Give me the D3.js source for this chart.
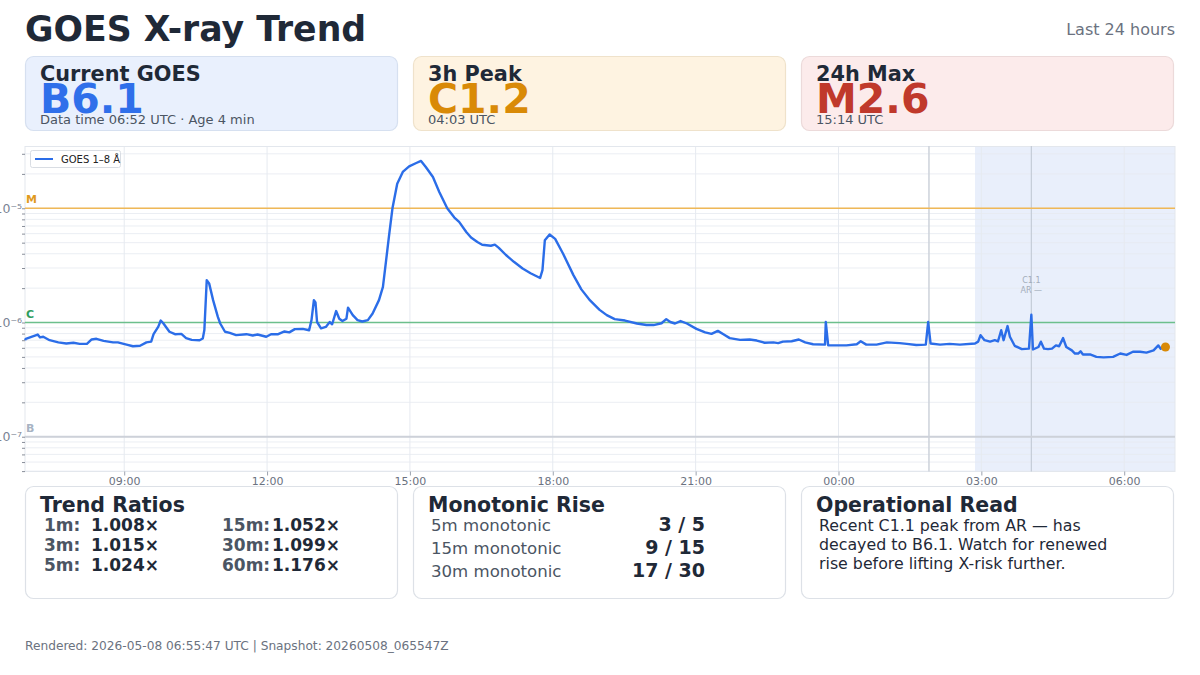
<!DOCTYPE html>
<html><head><meta charset="utf-8">
<script src="https://cdn.jsdelivr.net/npm/d3@7"></script>
<style>
html,body{margin:0;padding:0;background:#fff;}
svg{display:block;font-family:"DejaVu Sans",sans-serif;}
</style></head><body>
<svg id="chart" width="1200" height="675"></svg>
<script>
// ---------- DATA ----------
const seriesTimes = [
"2026-05-07 06:55","2026-05-07 06:56","2026-05-07 07:11","2026-05-07 07:14","2026-05-07 07:18","2026-05-07 07:26","2026-05-07 07:37","2026-05-07 07:47","2026-05-07 07:56","2026-05-07 08:04",
"2026-05-07 08:13","2026-05-07 08:19","2026-05-07 08:25","2026-05-07 08:34","2026-05-07 08:46","2026-05-07 08:52","2026-05-07 09:03","2026-05-07 09:11","2026-05-07 09:20","2026-05-07 09:28",
"2026-05-07 09:34","2026-05-07 09:37","2026-05-07 09:43","2026-05-07 09:46","2026-05-07 09:49","2026-05-07 09:57","2026-05-07 10:04","2026-05-07 10:12","2026-05-07 10:18","2026-05-07 10:25",
"2026-05-07 10:35","2026-05-07 10:39","2026-05-07 10:41","2026-05-07 10:44","2026-05-07 10:47","2026-05-07 10:52","2026-05-07 10:58","2026-05-07 11:01","2026-05-07 11:07","2026-05-07 11:13",
"2026-05-07 11:21","2026-05-07 11:34","2026-05-07 11:42","2026-05-07 11:48","2026-05-07 11:59","2026-05-07 12:05","2026-05-07 12:14","2026-05-07 12:22","2026-05-07 12:28","2026-05-07 12:35",
"2026-05-07 12:45","2026-05-07 12:53","2026-05-07 12:56","2026-05-07 12:59","2026-05-07 13:01","2026-05-07 13:03","2026-05-07 13:08","2026-05-07 13:14","2026-05-07 13:19","2026-05-07 13:22",
"2026-05-07 13:27","2026-05-07 13:31","2026-05-07 13:35","2026-05-07 13:40","2026-05-07 13:42","2026-05-07 13:48","2026-05-07 13:54","2026-05-07 14:00","2026-05-07 14:07","2026-05-07 14:13",
"2026-05-07 14:21","2026-05-07 14:26","2026-05-07 14:30","2026-05-07 14:34","2026-05-07 14:38","2026-05-07 14:44","2026-05-07 14:51","2026-05-07 14:59","2026-05-07 15:08","2026-05-07 15:14",
"2026-05-07 15:20","2026-05-07 15:29","2026-05-07 15:37","2026-05-07 15:47","2026-05-07 15:56","2026-05-07 16:02","2026-05-07 16:11","2026-05-07 16:17","2026-05-07 16:25","2026-05-07 16:31",
"2026-05-07 16:42","2026-05-07 16:47","2026-05-07 16:52","2026-05-07 17:01","2026-05-07 17:11","2026-05-07 17:22","2026-05-07 17:32","2026-05-07 17:44","2026-05-07 17:47","2026-05-07 17:50",
"2026-05-07 17:56","2026-05-07 18:03","2026-05-07 18:13","2026-05-07 18:26","2026-05-07 18:36","2026-05-07 18:47","2026-05-07 18:59","2026-05-07 19:08","2026-05-07 19:18","2026-05-07 19:31",
"2026-05-07 19:46","2026-05-07 19:58","2026-05-07 20:07","2026-05-07 20:17","2026-05-07 20:23","2026-05-07 20:28","2026-05-07 20:34","2026-05-07 20:41","2026-05-07 20:49","2026-05-07 21:01",
"2026-05-07 21:12","2026-05-07 21:20","2026-05-07 21:28","2026-05-07 21:35","2026-05-07 21:43","2026-05-07 21:56","2026-05-07 22:08","2026-05-07 22:17","2026-05-07 22:27","2026-05-07 22:38",
"2026-05-07 22:44","2026-05-07 22:50","2026-05-07 23:01","2026-05-07 23:10","2026-05-07 23:18","2026-05-07 23:28","2026-05-07 23:43","2026-05-07 23:44","2026-05-07 23:47","2026-05-07 23:58",
"2026-05-08 00:10","2026-05-08 00:23","2026-05-08 00:28","2026-05-08 00:35","2026-05-08 00:48","2026-05-08 01:01","2026-05-08 01:17","2026-05-08 01:26","2026-05-08 01:38","2026-05-08 01:50",
"2026-05-08 01:53","2026-05-08 01:56","2026-05-08 02:08","2026-05-08 02:20","2026-05-08 02:33","2026-05-08 02:52","2026-05-08 02:56","2026-05-08 02:59","2026-05-08 03:04","2026-05-08 03:11",
"2026-05-08 03:17","2026-05-08 03:21","2026-05-08 03:25","2026-05-08 03:28","2026-05-08 03:33","2026-05-08 03:36","2026-05-08 03:42","2026-05-08 03:51","2026-05-08 04:00","2026-05-08 04:03",
"2026-05-08 04:05","2026-05-08 04:12","2026-05-08 04:15","2026-05-08 04:19","2026-05-08 04:24","2026-05-08 04:29","2026-05-08 04:34","2026-05-08 04:38","2026-05-08 04:43","2026-05-08 04:47",
"2026-05-08 04:54","2026-05-08 04:58","2026-05-08 05:02","2026-05-08 05:05","2026-05-08 05:08","2026-05-08 05:17","2026-05-08 05:25","2026-05-08 05:34","2026-05-08 05:46","2026-05-08 05:55",
"2026-05-08 06:03","2026-05-08 06:11","2026-05-08 06:20","2026-05-08 06:28","2026-05-08 06:37","2026-05-08 06:43","2026-05-08 06:46","2026-05-08 06:52"
];
const fluxValues = [
7.0e-7,7.2e-7,7.85e-7,7.4e-7,7.5e-7,7.0e-7,6.7e-7,6.55e-7,6.65e-7,6.5e-7,
6.5e-7,7.1e-7,7.2e-7,6.9e-7,6.7e-7,6.7e-7,6.4e-7,6.2e-7,6.25e-7,6.7e-7,
6.8e-7,7.9e-7,9.2e-7,1.04e-6,9.9e-7,8.3e-7,7.9e-7,7.95e-7,7.3e-7,7.05e-7,
7.0e-7,7.24e-7,8.6e-7,2.35e-6,2.2e-6,1.57e-6,1.12e-6,9.8e-7,8.3e-7,8.1e-7,
7.75e-7,7.9e-7,7.7e-7,7.85e-7,7.5e-7,7.9e-7,7.9e-7,8.35e-7,8.2e-7,8.75e-7,
8.8e-7,8.55e-7,1.05e-6,1.57e-6,1.5e-6,1.01e-6,8.9e-7,9.15e-7,1.01e-6,9.65e-7,
1.26e-6,1.08e-6,1.03e-6,1.08e-6,1.35e-6,1.16e-6,1.05e-6,1.02e-6,1.05e-6,1.2e-6,
1.57e-6,2.05e-6,3.5e-6,6.0e-6,1.0e-5,1.64e-5,2.08e-5,2.33e-5,2.49e-5,2.6e-5,
2.3e-5,1.88e-5,1.39e-5,1.0e-5,8.3e-6,7.6e-6,6.2e-6,5.55e-6,5.07e-6,4.8e-6,
4.7e-6,4.8e-6,4.5e-6,3.9e-6,3.4e-6,2.97e-6,2.7e-6,2.45e-6,2.87e-6,5.25e-6,
5.9e-6,5.4e-6,4.0e-6,2.6e-6,1.95e-6,1.56e-6,1.29e-6,1.16e-6,1.07e-6,1.04e-6,
9.8e-7,9.5e-7,9.5e-7,9.85e-7,1.07e-6,1.01e-6,9.8e-7,1.03e-6,9.8e-7,8.8e-7,
8.2e-7,7.95e-7,8.45e-7,7.9e-7,7.3e-7,7.05e-7,7.1e-7,6.95e-7,6.65e-7,6.7e-7,
6.6e-7,6.8e-7,6.85e-7,7.1e-7,6.7e-7,6.45e-7,6.4e-7,1.01e-6,6.3e-7,6.3e-7,
6.3e-7,6.45e-7,6.85e-7,6.4e-7,6.4e-7,6.7e-7,6.6e-7,6.5e-7,6.35e-7,6.4e-7,
1.01e-6,6.55e-7,6.4e-7,6.5e-7,6.4e-7,6.55e-7,6.8e-7,7.75e-7,7.0e-7,6.8e-7,
7.0e-7,6.85e-7,8.55e-7,7.0e-7,9.3e-7,7.5e-7,6.25e-7,5.85e-7,5.9e-7,1.17e-6,
5.8e-7,6.1e-7,6.8e-7,5.9e-7,5.85e-7,5.9e-7,6.3e-7,6.2e-7,7.3e-7,6.1e-7,
5.7e-7,5.35e-7,5.35e-7,5.6e-7,5.25e-7,5.25e-7,5.0e-7,4.95e-7,5.0e-7,5.35e-7,
5.2e-7,5.55e-7,5.55e-7,5.45e-7,5.7e-7,6.3e-7,5.9e-7,6.1e-7
];
const xDomainTimes = ["2026-05-07 06:55","2026-05-08 07:04"];
const yDomainFlux = [4.96e-8, 3.51e-5];
const xTickTimes = ["2026-05-07 09:00","2026-05-07 12:00","2026-05-07 15:00","2026-05-07 18:00","2026-05-07 21:00","2026-05-08 00:00","2026-05-08 03:00","2026-05-08 06:00"];
const xTickLabels = ["09:00","12:00","15:00","18:00","21:00","00:00","03:00","06:00"];
const yTickValues = [1e-5, 1e-6, 1e-7];
const yTickLabels = ["10⁻⁵","10⁻⁶","10⁻⁷"];
const thresholdNames = ["M","C","B"];
const thresholdValues = [1e-5, 1e-6, 1e-7];
const windowStart = "2026-05-08 02:52";
const markerTimes = ["2026-05-08 01:54","2026-05-08 04:03"];
const peakAnnotation = ["C1.1","AR —"];
const legendLabel = "GOES 1–8 Å";

const topCardTitles = ["Current GOES","3h Peak","24h Max"];
const topCardValues = ["B6.1","C1.2","M2.6"];
const topCardSubs = ["Data time 06:52 UTC · Age 4 min","04:03 UTC","15:14 UTC"];
const ratioLabels = ["1m:","3m:","5m:","15m:","30m:","60m:"];
const ratioValues = ["1.008×","1.015×","1.024×","1.052×","1.099×","1.176×"];
const monoLabels = ["5m monotonic","15m monotonic","30m monotonic"];
const monoValues = ["3 / 5","9 / 15","17 / 30"];
const opLines = ["Recent C1.1 peak from AR — has","decayed to B6.1. Watch for renewed","rise before lifting X-risk further."];
const footerText = "Rendered: 2026-05-08 06:55:47 UTC | Snapshot: 20260508_065547Z";

// ---------- DRAW ----------
const parse = d3.utcParse("%Y-%m-%d %H:%M");
const data = seriesTimes.map((t,i)=>({t:parse(t), v:fluxValues[i]}));
const svg = d3.select("#chart");
const dark = "#1f2937", gray = "#6b7280", mid = "#4b5563";

// header
svg.append("text").attr("x",25).attr("y",41).attr("font-size",34.7).attr("font-weight","bold").attr("fill",dark).text("GOES X-ray Trend");
svg.append("text").attr("x",1175).attr("y",35).attr("text-anchor","end").attr("font-size",16).attr("fill",gray).text("Last 24 hours");

// top cards
const cardX = [25, 413, 801], cardW = 373;
const topFill = ["#e9f0fd","#fef3e1","#fcebeb"];
const topStroke = ["#d6e0f0","#efe2cb","#ecdada"];
const topColor = ["#2f6fea","#d98a07","#c0392b"];
cardX.forEach((x,i)=>{
  const g = svg.append("g");
  g.append("rect").attr("x",x+0.5).attr("y",56.5).attr("width",cardW-1).attr("height",74).attr("rx",8)
    .attr("fill",topFill[i]).attr("stroke",topStroke[i]).attr("stroke-width",1.2);
  g.append("text").attr("x",x+15).attr("y",81).attr("font-size",20.8).attr("font-weight","bold").attr("fill",dark).text(topCardTitles[i]);
  g.append("text").attr("x",x+15).attr("y",113).attr("font-size",41).attr("font-weight","bold").attr("fill",topColor[i]).text(topCardValues[i]);
  g.append("text").attr("x",x+15).attr("y",124).attr("font-size",13).attr("fill",mid).text(topCardSubs[i]);
});

// chart
const L=25, R=1175, T=146, B=471.5;
const x = d3.scaleUtc().domain(xDomainTimes.map(parse)).range([L,R]);
const y = d3.scaleLog().domain(yDomainFlux).range([B,T]);
const plot = svg.append("g");
plot.append("rect").attr("x",L).attr("y",T).attr("width",R-L).attr("height",B-T).attr("fill","#fff");
// shaded window
plot.append("rect").attr("x",x(parse(windowStart))).attr("y",T).attr("width",R-x(parse(windowStart))).attr("height",B-T).attr("fill","#e9effb");
// minor horizontal grid
const minor = [];
for(let e=-8;e<=-5;e++) for(let m=1;m<=9;m++){ const v=m*Math.pow(10,e); if(v>=yDomainFlux[0]&&v<=yDomainFlux[1]) minor.push(v); }
plot.selectAll("line.hg").data(minor).join("line").attr("class","hg")
  .attr("x1",L).attr("x2",R).attr("y1",d=>y(d)).attr("y2",d=>y(d))
  .attr("stroke","#e6eaf0").attr("stroke-opacity",0.8).attr("stroke-width",1);
// vertical grid
plot.selectAll("line.vg").data(xTickTimes.map(parse)).join("line").attr("class","vg")
  .attr("x1",d=>x(d)).attr("x2",d=>x(d)).attr("y1",T).attr("y2",B)
  .attr("stroke","#e6eaf0").attr("stroke-width",1);
// plot border
plot.append("rect").attr("x",L).attr("y",T+0.5).attr("width",R-L).attr("height",B-T-0.5).attr("fill","none").attr("stroke","#e3e7ed");
// markers
plot.selectAll("line.mk").data(markerTimes.map(parse)).join("line").attr("class","mk")
  .attr("x1",d=>x(d)).attr("x2",d=>x(d)).attr("y1",T).attr("y2",B)
  .attr("stroke",(d,i)=>i===0?"#cdd2da":"#c5ccd7").attr("stroke-width",(d,i)=>i===0?1.5:1.2);
const mk2 = x(parse(markerTimes[1]));
peakAnnotation.forEach((s,i)=>{
  plot.append("text").attr("x",mk2).attr("y",283+i*9.5).attr("text-anchor","middle").attr("font-size",8).attr("fill","#a3adba").text(s);
});
// thresholds
const thrColor = ["#efb857","#6cbf8c","#cdd1d9"];
const thrLabelColor = ["#e09a1e","#2f9e5f","#a7b3c3"];
thresholdValues.forEach((v,i)=>{
  plot.append("line").attr("x1",L).attr("x2",R).attr("y1",y(v)).attr("y2",y(v))
    .attr("stroke",thrColor[i]).attr("stroke-width",i===2?2:1.4);
  plot.append("text").attr("x",L+1).attr("y",y(v)-5).attr("font-size",11).attr("font-weight","bold").attr("fill",thrLabelColor[i]).text(thresholdNames[i]);
});
// y axis
const yAxis = d3.axisLeft(y).tickValues(minor).tickSize(3).tickFormat(d=>{
  const k = yTickValues.findIndex(v=>Math.abs(v-d)/v<1e-6); return k>=0?yTickLabels[k]:"";
});
const ya = svg.append("g").attr("transform",`translate(${L},0)`).call(yAxis);
ya.select(".domain").remove();
ya.selectAll(".tick line").attr("stroke","#6b7280").attr("stroke-opacity",0.8);
ya.selectAll(".tick text").attr("font-size",12.5).attr("fill","#7b8494").attr("font-family","DejaVu Sans").attr("x",-3);
// x axis
const xAxis = d3.axisBottom(x).tickValues(xTickTimes.map(parse)).tickSize(4).tickFormat((d,i)=>xTickLabels[i]);
const xa = svg.append("g").attr("transform",`translate(0,${B})`).call(xAxis);
xa.select(".domain").remove();
xa.selectAll(".tick line").attr("stroke","#9ca3af");
xa.selectAll(".tick text").attr("font-size",11).attr("fill","#6b7280").attr("font-family","DejaVu Sans").attr("dy","0.55em");
// line
const line = d3.line().x(d=>x(d.t)).y(d=>y(d.v));
plot.append("path").datum(data).attr("d",line).attr("fill","none").attr("stroke","#2b6de8").attr("stroke-width",2.4).attr("stroke-linejoin","round");
const last = data[data.length-1];
plot.append("circle").attr("cx",x(last.t)).attr("cy",y(last.v)).attr("r",4.5).attr("fill","#d98a07");
// legend
const lg = svg.append("g");
lg.append("rect").attr("x",30.5).attr("y",150.5).attr("width",90).attr("height",17).attr("rx",2).attr("fill","#fff").attr("stroke","#d9dde3");
lg.append("line").attr("x1",35).attr("x2",53).attr("y1",159).attr("y2",159).attr("stroke","#2b6de8").attr("stroke-width",2);
lg.append("text").attr("x",61).attr("y",162.5).attr("font-size",10).attr("fill","#222").text(legendLabel);

// bottom cards
cardX.forEach((cx,i)=>{
  svg.append("rect").attr("x",cx+0.5).attr("y",486.5).attr("width",cardW-1).attr("height",112).attr("rx",8)
    .attr("fill","#fff").attr("stroke","#dde1e7").attr("stroke-width",1.2);
});
const bTitles = ["Trend Ratios","Monotonic Rise","Operational Read"];
bTitles.forEach((t,i)=>svg.append("text").attr("x",cardX[i]+15).attr("y",512).attr("font-size",20.5).attr("font-weight","bold").attr("fill",dark).text(t));
ratioLabels.forEach((lab,i)=>{
  const col = Math.floor(i/3), row = i%3;
  const lx = col===0?44:222, vx = col===0?91:272;
  svg.append("text").attr("x",lx).attr("y",531+row*20).attr("font-size",17).attr("font-weight","bold").attr("fill",mid).text(lab);
  svg.append("text").attr("x",vx).attr("y",531+row*20).attr("font-size",17).attr("font-weight","bold").attr("fill",dark).text(ratioValues[i]);
});
monoLabels.forEach((lab,i)=>{
  svg.append("text").attr("x",431).attr("y",531+i*23).attr("font-size",16.6).attr("fill",mid).text(lab);
  svg.append("text").attr("x",705).attr("y",531+i*23).attr("text-anchor","end").attr("font-size",19).attr("font-weight","bold").attr("fill",dark).text(monoValues[i]);
});
opLines.forEach((s,i)=>svg.append("text").attr("x",819).attr("y",531+i*19).attr("font-size",15.8).attr("fill",dark).text(s));
svg.append("text").attr("x",25).attr("y",650).attr("font-size",12.2).attr("fill",gray).text(footerText);
</script>
</body></html>
